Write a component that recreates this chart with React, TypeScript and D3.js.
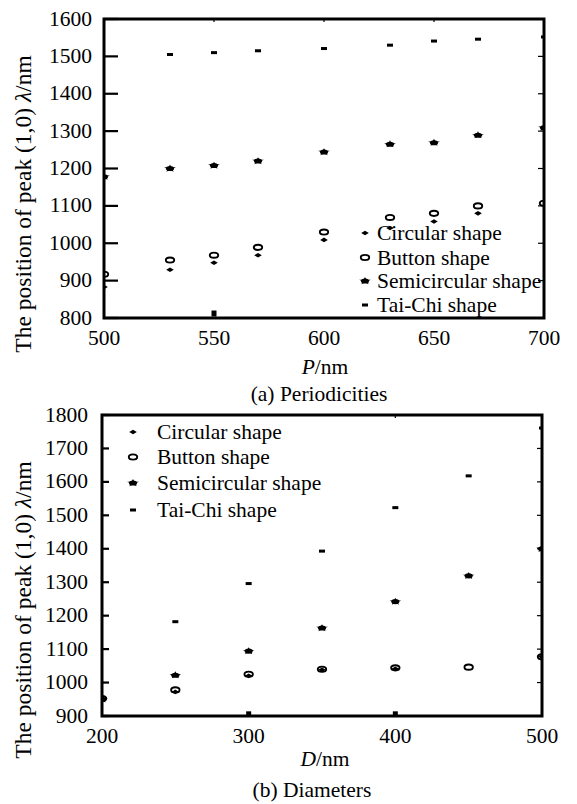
import React from "react";
import * as d3 from "d3";

// ---------- Data (a) Periodicities ----------
const periodsA = [500, 530, 550, 570, 600, 630, 650, 670, 700];
const circularA: (number | null)[] = [883, 929, 948, 968, 1009, 1041, 1058, 1080, null];
const buttonA: (number | null)[] = [917, 955, 968, 989, 1030, 1069, 1080, 1100, 1107];
const semicircularA: (number | null)[] = [1178, 1200, 1208, 1220, 1244, 1265, 1269, 1289, 1309];
const taichiA: (number | null)[] = [null, 1505, 1510, 1515, 1521, 1530, 1541, 1546, 1552];
const strayA = [{ x: 550, y: 812 }];
const yTicksA = [800, 900, 1000, 1100, 1200, 1300, 1400, 1500, 1600];
const xTicksA = [500, 550, 600, 650, 700];
const topTicksA = [550, 600, 650];

// ---------- Data (b) Diameters ----------
const diametersB = [200, 250, 300, 350, 400, 450, 500];
const circularB: (number | null)[] = [948, 972, 1020, 1038, 1041, null, 1077];
const buttonB: (number | null)[] = [952, 978, 1025, 1040, 1044, 1046, 1077];
const semicircularB: (number | null)[] = [950, 1022, 1094, 1163, 1242, 1319, 1400];
const taichiB: (number | null)[] = [null, 1182, 1296, 1393, 1523, 1618, 1761];
const strayB = [{ x: 300, y: 905 }, { x: 400, y: 905 }];
const yTicksB = [900, 1000, 1100, 1200, 1300, 1400, 1500, 1600, 1700, 1800];
const xTicksB = [200, 300, 400, 500];
const topTicksB = [400];

const seriesNames = ["Circular shape", "Button shape", "Semicircular shape", "Tai-Chi shape"];
const markerKinds = ["circular", "button", "semi", "taichi"];

const FONT = "'Liberation Serif', 'Times New Roman', serif";

function Marker({ kind, x, y }: { kind: string; x: number; y: number }) {
  if (kind === "circular") {
    return <path d={`M${x - 3.8},${y} L${x},${y - 2.3} L${x + 3.8},${y} L${x},${y + 2.3} Z`} fill="#000" />;
  }
  if (kind === "button") {
    return <ellipse cx={x} cy={y} rx={4.2} ry={2.6} fill="none" stroke="#000" strokeWidth={1.9} />;
  }
  if (kind === "semi") {
    const star = d3.symbol().type(d3.symbolStar).size(30)();
    return (
      <g transform={`translate(${x},${y}) scale(1.2,0.75)`}>
        <path d={star || ""} fill="#000" />
        <ellipse cx={0} cy={0} rx={3.4} ry={3.4} fill="#000" />
      </g>
    );
  }
  return <rect x={x - 3} y={y - 1.5} width={6} height={3} fill="#000" />;
}

type PanelProps = {
  id: string;
  xs: number[];
  series: (number | null)[][];
  stray: { x: number; y: number }[];
  xDomain: [number, number];
  yDomain: [number, number];
  xTicks: number[];
  yTicks: number[];
  topTicks: number[];
  left: number;
  right: number;
  top: number;
  bottom: number;
  leftTickLen: number;
  rightTickLen: number;
  yLabelRight: number;
  xTitle: string;
  xTitleY: number;
  caption: string;
  captionY: number;
  captionX: number;
  xTitleX: number;
  yTitleX: number;
  yTitleY: number;
  legendMarkerX: number;
  legendTextX: number;
  legendYs: number[];
};

function Panel(p: PanelProps) {
  const x = d3.scaleLinear().domain(p.xDomain).range([p.left, p.right]);
  const y = d3.scaleLinear().domain(p.yDomain).range([p.bottom, p.top]);
  const clipId = `clip-${p.id}`;
  return (
    <g fontFamily={FONT} fill="#000">
      <defs>
        <clipPath id={clipId}>
          <rect x={p.left} y={p.top} width={p.right - p.left} height={p.bottom - p.top} />
        </clipPath>
      </defs>
      <g clipPath={`url(#${clipId})`}>
        {p.series.map((vals, si) =>
          vals.map((v, i) =>
            v == null ? null : <Marker key={`${si}-${i}`} kind={markerKinds[si]} x={x(p.xs[i])} y={y(v)} />
          )
        )}
        {p.stray.map((s, i) => (
          <rect key={`s${i}`} x={x(s.x) - 2.5} y={y(s.y) - 3} width={5} height={6} fill="#000" />
        ))}
      </g>
      {p.yTicks.map((t) => (
        <g key={`yt${t}`}>
          <line x1={p.left} x2={p.left + p.leftTickLen} y1={y(t)} y2={y(t)} stroke="#000" strokeWidth={2.2} />
          <line x1={p.right - p.rightTickLen} x2={p.right} y1={y(t)} y2={y(t)} stroke="#000" strokeWidth={1.2} />
          <text x={p.yLabelRight} y={y(t) + 6.5} textAnchor="end" fontSize={21.5}>
            {t}
          </text>
        </g>
      ))}
      {p.topTicks.map((t) => (
        <line key={`tt${t}`} x1={x(t)} x2={x(t)} y1={p.top} y2={p.top + 3} stroke="#000" strokeWidth={1.2} />
      ))}
      {p.xTicks.map((t) => (
        <text key={`xt${t}`} x={x(t)} y={p.bottom + 27} textAnchor="middle" fontSize={21.5}>
          {t}
        </text>
      ))}
      <rect x={p.left} y={p.top} width={p.right - p.left} height={p.bottom - p.top} fill="none" stroke="#000" strokeWidth={3} />
      {seriesNames.map((name, i) => (
        <g key={name}>
          <Marker kind={markerKinds[i]} x={p.legendMarkerX} y={p.legendYs[i]} />
          <text x={p.legendTextX} y={p.legendYs[i] + 7} fontSize={21.5}>
            {name}
          </text>
        </g>
      ))}
      <text x={p.xTitleX} y={p.xTitleY} textAnchor="middle" fontSize={21.5}>
        <tspan fontStyle="italic">{p.xTitle}</tspan>/nm
      </text>
      <text x={p.captionX} y={p.captionY} textAnchor="middle" fontSize={21.5}>
        {p.caption}
      </text>
      <text
        transform={`translate(${p.yTitleX},${p.yTitleY}) rotate(-90)`}
        textAnchor="middle"
        fontSize={23.5}
      >
        The position of peak (1,0) <tspan fontStyle="italic">λ</tspan>/nm
      </text>
    </g>
  );
}

export default function App() {
  return (
    <svg width={577} height={804} style={{ position: "absolute", left: 0, top: 0, background: "#fff" }}>
      <rect x={0} y={0} width={577} height={804} fill="#fff" />
      <Panel
        id="a"
        xs={periodsA}
        series={[circularA, buttonA, semicircularA, taichiA]}
        stray={strayA}
        xDomain={[500, 700]}
        yDomain={[800, 1600]}
        xTicks={xTicksA}
        yTicks={yTicksA}
        topTicks={topTicksA}
        left={104}
        right={544}
        top={19}
        bottom={318}
        leftTickLen={14}
        rightTickLen={6}
        yLabelRight={92}
        xTitle="P"
        xTitleX={325}
        xTitleY={374}
        caption="(a) Periodicities"
        captionX={319}
        captionY={401}
        yTitleX={31}
        yTitleY={204}
        legendMarkerX={365}
        legendTextX={377}
        legendYs={[233, 257.5, 281, 305]}
      />
      <Panel
        id="b"
        xs={diametersB}
        series={[circularB, buttonB, semicircularB, taichiB]}
        stray={strayB}
        xDomain={[200, 500]}
        yDomain={[900, 1800]}
        xTicks={xTicksB}
        yTicks={yTicksB}
        topTicks={topTicksB}
        left={102}
        right={542}
        top={415}
        bottom={716}
        leftTickLen={7}
        rightTickLen={5}
        yLabelRight={88}
        xTitle="D"
        xTitleX={325}
        xTitleY={766}
        caption="(b) Diameters"
        captionX={312}
        captionY={797}
        yTitleX={31}
        yTitleY={610}
        legendMarkerX={133}
        legendTextX={157}
        legendYs={[432, 457, 483, 510]}
      />
    </svg>
  );
}
